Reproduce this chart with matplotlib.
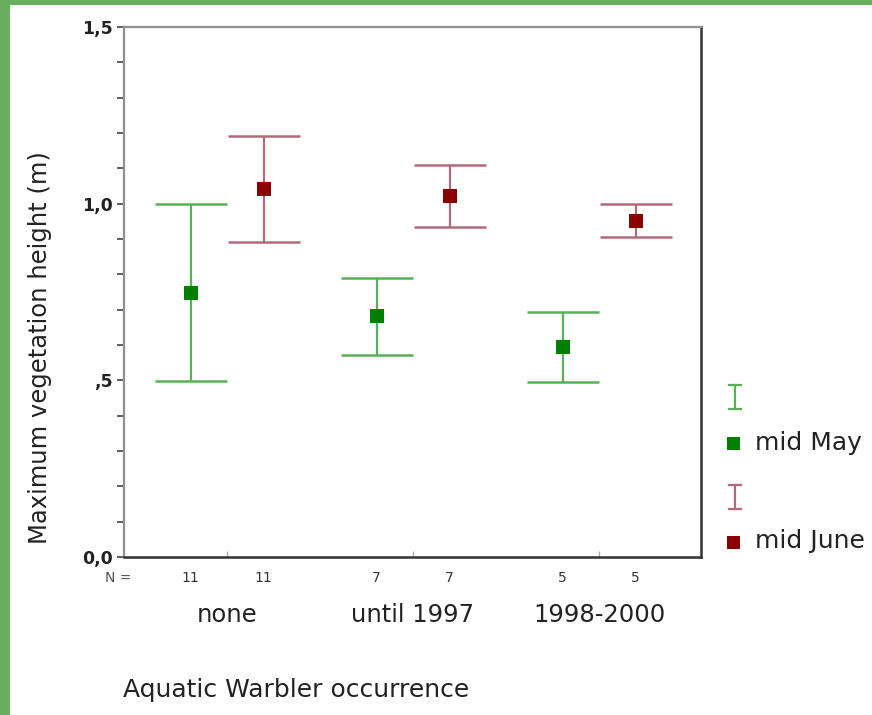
import matplotlib
matplotlib.use("Agg")
import matplotlib.pyplot as plt
from matplotlib.patches import Rectangle
from matplotlib.lines import Line2D
import numpy as np

groups = ["none", "until 1997", "1998-2000"]
n_may = [11, 7, 5]
n_june = [11, 7, 5]
may_mean = [0.746, 0.682, 0.595]
may_low = [0.497, 0.571, 0.496]
may_high = [0.999, 0.789, 0.694]
june_mean = [1.042, 1.023, 0.951]
june_low = [0.892, 0.934, 0.906]
june_high = [1.192, 1.110, 0.998]
yticks_major = [0.0, 0.5, 1.0, 1.5]
ytick_labels = ["0,0", ",5", "1,0", "1,5"]

W, H = 872, 715
fig = plt.figure(figsize=(W / 100, H / 100), dpi=100)
fig.patch.set_facecolor("#6aae60")
fig.patches.append(Rectangle((10 / W, 0), 1, (H - 5) / H, transform=fig.transFigure,
                             facecolor="white", edgecolor="none", zorder=-10))

ax = fig.add_axes([124 / W, 1 - 557 / H, (701 - 124) / W, (557 - 27) / H])
ax.set_facecolor("white")

centers = np.arange(1, len(groups) + 1)
off = 0.196
x_may = centers - off
x_june = centers + off

may_col_bar = "#58b058"
may_col_mk = "#008000"
june_col_bar = "#b06a78"
june_col_mk = "#8b0000"

ym = np.array(may_mean)
yj = np.array(june_mean)
ax.errorbar(x_may, ym, yerr=[ym - np.array(may_low), np.array(may_high) - ym],
            fmt="none", ecolor=may_col_bar, elinewidth=1.6, capsize=26, capthick=1.8, zorder=2)
ax.errorbar(x_june, yj, yerr=[yj - np.array(june_low), np.array(june_high) - yj],
            fmt="none", ecolor=june_col_bar, elinewidth=1.6, capsize=26, capthick=1.8, zorder=2)
ax.plot(x_may, ym, "s", color=may_col_mk, markersize=10.5, markeredgewidth=0, zorder=3)
ax.plot(x_june, yj, "s", color=june_col_mk, markersize=10.5, markeredgewidth=0, zorder=3)

ax.set_xlim(0.446, 3.548)
ax.set_ylim(0, 1.5)

ax.set_yticks(yticks_major)
ax.set_yticklabels(ytick_labels, fontsize=12.5, fontweight="bold", color="#222222")
ax.set_yticks(np.arange(0, 1.51, 0.1), minor=True)
ax.tick_params(axis="y", which="both", direction="out", length=5, width=1.2, color="#444444", pad=3)

ax.set_xticks(centers)
ax.set_xticklabels([])
ax.tick_params(axis="x", which="major", direction="in", length=4, width=1, color="#aaaaaa")

for side in ["top", "left"]:
    ax.spines[side].set_color("#909090")
    ax.spines[side].set_linewidth(1.6)
for side in ["right", "bottom"]:
    ax.spines[side].set_color("#333333")
    ax.spines[side].set_linewidth(1.8)

# N labels
fig.text(118 / W, 1 - 578 / H, "N =", fontsize=10, color="#555555", ha="center", va="center")
for xm, xj, nm, nj in zip(x_may, x_june, n_may, n_june):
    ax.annotate(str(nm), (xm, 0), xytext=(0, -15), textcoords="offset points",
                ha="center", va="center", fontsize=10, color="#333333")
    ax.annotate(str(nj), (xj, 0), xytext=(0, -15), textcoords="offset points",
                ha="center", va="center", fontsize=10, color="#333333")
for c, g in zip(centers, groups):
    ax.annotate(g, (c, 0), xytext=(0, -42), textcoords="offset points",
                ha="center", va="center", fontsize=17.5, color="#222222")

fig.text(123 / W, 1 - 690 / H, "Aquatic Warbler occurrence", fontsize=18,
         color="#222222", ha="left", va="center")
fig.text(40 / W, 1 - 348 / H, "Maximum vegetation height (m)", fontsize=17.5,
         color="#222222", rotation=90, ha="center", va="center")

# legend
def err_icon(xc, yc, color):
    x0, x1 = (xc - 6) / W, (xc + 6) / W
    ytop, ybot = 1 - (yc - 12) / H, 1 - (yc + 12) / H
    for xs, ys in [([xc / W, xc / W], [ytop, ybot]), ([x0, x1], [ytop, ytop]), ([x0, x1], [ybot, ybot])]:
        fig.add_artist(Line2D(xs, ys, transform=fig.transFigure, color=color, linewidth=1.6))

err_icon(735, 397, may_col_bar)
err_icon(735, 497, june_col_bar)
fig.patches.append(Rectangle((727 / W, 1 - 450 / H), 13 / W, 13 / H, transform=fig.transFigure,
                             facecolor=may_col_mk, edgecolor="none"))
fig.patches.append(Rectangle((727 / W, 1 - 549 / H), 13 / W, 13 / H, transform=fig.transFigure,
                             facecolor=june_col_mk, edgecolor="none"))
fig.text(755 / W, 1 - 443 / H, "mid May", fontsize=18, color="#222222", ha="left", va="center")
fig.text(755 / W, 1 - 541 / H, "mid June", fontsize=18, color="#222222", ha="left", va="center")

fig.savefig("out.png", dpi=100, facecolor=fig.get_facecolor())
